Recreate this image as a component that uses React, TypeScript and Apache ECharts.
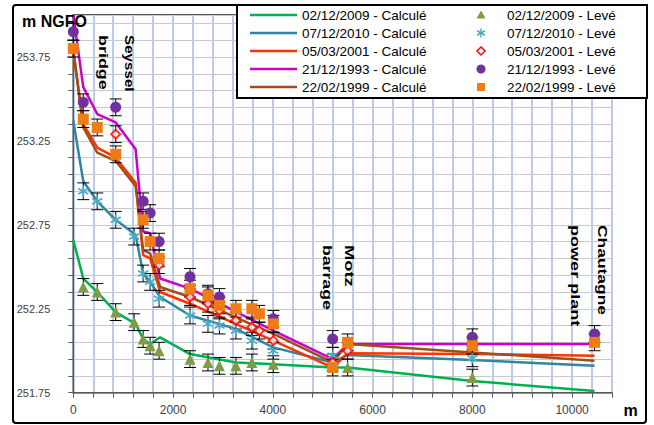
import React, { useEffect, useRef } from 'react';
import * as echarts from 'echarts';

// ---------- DATA ----------
const DATES = ['02/12/2009', '07/12/2010', '05/03/2001', '21/12/1993', '22/02/1999'];
const CALC_NAMES = DATES.map((d) => `${d} - Calculé`);
const LEVE_NAMES = DATES.map((d) => `${d} - Levé`);

const X_TICK_LABELS = ['0', '2000', '4000', '6000', '8000', '10000'];
const Y_TICK_LABELS = ['251.75', '252.25', '252.75', '253.25', '253.75'];

const Y_NAME = 'm NGFO';
const X_NAME = 'm';

// Calculated water lines [distance m, level m NGFO]
const CALC_2009: [number, number][] = [
  [0, 252.66], [200, 252.43], [480, 252.35], [850, 252.23], [1250, 252.16], [1400, 252.07],
  [1540, 252.04], [1740, 252.08], [2340, 251.98], [3260, 251.93], [4010, 251.92],
  [5200, 251.9], [5500, 251.9], [8000, 251.82], [10450, 251.76],
];
const CALC_2010: [number, number][] = [
  [0, 253.37], [200, 253.01], [480, 252.89], [850, 252.78], [1250, 252.69], [1400, 252.46],
  [1540, 252.41], [1740, 252.32], [2340, 252.21], [3260, 252.13], [3600, 252.08], [4010, 252.02],
  [5200, 251.93], [5500, 251.975], [8000, 251.945], [10450, 251.91],
];
const CALC_2001: [number, number][] = [
  [0, 253.79], [200, 253.35], [480, 253.21], [850, 253.15], [1250, 253.0], [1400, 252.57],
  [1540, 252.55], [1740, 252.35], [2340, 252.28], [4010, 252.06], [5200, 251.9],
  [5500, 251.985], [8000, 251.98], [10450, 251.97],
];
const CALC_1993: [number, number][] = [
  [0, 254.0], [200, 253.57], [480, 253.41], [850, 253.36], [1250, 253.2], [1400, 252.71],
  [1540, 252.7], [1740, 252.43], [2340, 252.37], [4010, 252.12], [5200, 251.95],
  [5500, 252.04], [8000, 252.04], [10450, 252.04],
];
const CALC_1999: [number, number][] = [
  [0, 253.79], [200, 253.33], [480, 253.18], [850, 253.13], [1250, 252.98], [1400, 252.6],
  [1540, 252.58], [1740, 252.38], [2340, 252.32], [4010, 252.1], [5200, 251.93],
  [5500, 252.04], [8000, 251.99], [10450, 251.94],
];

// Surveyed levels [distance m, level m NGFO]
const LEVE_2009: [number, number][] = [
  [200, 252.38], [480, 252.35], [850, 252.23], [1220, 252.17], [1400, 252.07], [1540, 252.03],
  [1720, 252.0], [2340, 251.95], [2700, 251.93], [2930, 251.91], [3260, 251.91], [3580, 251.93],
  [4010, 251.92], [5500, 251.9], [8000, 251.84],
];
const LEVE_2010: [number, number][] = [
  [200, 252.95], [480, 252.89], [850, 252.78], [1220, 252.68], [1400, 252.46], [1540, 252.41],
  [1720, 252.31], [2340, 252.21], [2700, 252.16], [2930, 252.15], [3260, 252.12], [3580, 252.06],
  [4010, 252.0], [5200, 251.97], [8000, 251.955],
];
const LEVE_2001: [number, number][] = [
  [850, 253.29], [1720, 252.51], [2340, 252.32], [2700, 252.28], [2930, 252.24], [3260, 252.18],
  [3580, 252.14], [3730, 252.12], [4010, 252.06], [5200, 251.93], [5500, 252.0],
];
const LEVE_1993: [number, number][] = [
  [0, 253.9], [200, 253.48], [850, 253.45], [1400, 252.89], [1540, 252.82], [1720, 252.65],
  [2340, 252.44], [2700, 252.34], [2930, 252.32], [4010, 252.19], [5200, 252.07],
  [8000, 252.08], [10450, 252.1],
];
const LEVE_1999: [number, number][] = [
  [0, 253.8], [200, 253.38], [480, 253.33], [850, 253.17], [1400, 252.78], [1540, 252.65],
  [1720, 252.55], [2340, 252.37], [2700, 252.33], [2930, 252.27], [3260, 252.25], [3580, 252.25],
  [3730, 252.22], [4010, 252.16], [5200, 251.9], [5500, 252.05], [8000, 252.03], [10450, 252.05],
];

const ERR = 0.05; // error bar half-height (m)

const CALC = [CALC_2009, CALC_2010, CALC_2001, CALC_1993, CALC_1999];
const LEVE = [LEVE_2009, LEVE_2010, LEVE_2001, LEVE_1993, LEVE_1999];

const ANNOTATIONS = [
  { text: 'Seyssel', x: 129.5, y: 35, sx: 1.17 },
  { text: 'bridge', x: 103.5, y: 35, sx: 1.38 },
  { text: 'Motz', x: 349.5, y: 245, sx: 1.41 },
  { text: 'barrage', x: 328, y: 245, sx: 1.36 },
  { text: 'Chautagne', x: 603, y: 225, sx: 1.34 },
  { text: 'power plant', x: 576, y: 225, sx: 1.39 },
];

// ---------- STYLES ----------
const FONT = '"Liberation Sans", Arial, sans-serif';
const LINE_COLORS = ['#00b050', '#31859c', '#ff3300', '#cc00cc', '#a04f18'];
const MARK_COLORS = ['#7e9c45', '#4bacc6', '#ff0000', '#7030a0', '#f07c16'];
const STAR_PATH =
  'path://M8.5,0L11.5,0L11.5,20L8.5,20Z' +
  'M0.59,6.3L2.09,3.7L19.41,13.7L17.91,16.3Z' +
  'M17.91,3.7L19.41,6.3L2.09,16.3L0.59,13.7Z';

function buildLegend(): any[] {
  const Z = 100;
  const children: any[] = [
    {
      type: 'rect',
      z: Z,
      shape: { x: 237, y: 5, width: 410, height: 93 },
      style: { fill: '#fff', stroke: '#000', lineWidth: 2 },
    },
  ];
  const textStyle = { fontFamily: FONT, fontSize: 13.5, fill: '#000', verticalAlign: 'middle', align: 'left' };
  DATES.forEach((_, i) => {
    const cy = 15 + i * 18;
    children.push({
      type: 'line',
      z: Z + 1,
      shape: { x1: 250, y1: cy, x2: 297, y2: cy },
      style: { stroke: LINE_COLORS[i], lineWidth: 2.5 },
    });
    children.push({ type: 'text', z: Z + 1, x: 302, y: cy, style: { ...textStyle, text: CALC_NAMES[i] } });
    children.push({ type: 'text', z: Z + 1, x: 507, y: cy, style: { ...textStyle, text: LEVE_NAMES[i] } });
    const cx = 481;
    const c = MARK_COLORS[i];
    if (i === 0) {
      children.push({
        type: 'polygon',
        z: Z + 1,
        shape: { points: [[cx, cy - 4.5], [cx + 4.5, cy + 3.5], [cx - 4.5, cy + 3.5]] },
        style: { fill: c },
      });
    } else if (i === 1) {
      const s = { stroke: c, lineWidth: 1.5 };
      children.push({ type: 'line', z: Z + 1, shape: { x1: cx, y1: cy - 4.5, x2: cx, y2: cy + 4.5 }, style: s });
      children.push({ type: 'line', z: Z + 1, shape: { x1: cx - 3.9, y1: cy - 2.25, x2: cx + 3.9, y2: cy + 2.25 }, style: s });
      children.push({ type: 'line', z: Z + 1, shape: { x1: cx - 3.9, y1: cy + 2.25, x2: cx + 3.9, y2: cy - 2.25 }, style: s });
    } else if (i === 2) {
      children.push({
        type: 'polygon',
        z: Z + 1,
        shape: { points: [[cx, cy - 4], [cx + 4, cy], [cx, cy + 4], [cx - 4, cy]] },
        style: { fill: '#fff', stroke: c, lineWidth: 1.5 },
      });
    } else if (i === 3) {
      children.push({ type: 'circle', z: Z + 1, shape: { cx, cy, r: 4.5 }, style: { fill: c } });
    } else {
      children.push({ type: 'rect', z: Z + 1, shape: { x: cx - 4, y: cy - 4, width: 8, height: 8 }, style: { fill: c } });
    }
  });
  return children;
}

export default function App() {
  const ref = useRef<HTMLDivElement>(null);

  useEffect(() => {
    if (!ref.current) return;
    const chart = echarts.init(ref.current, undefined, { renderer: 'svg' });

    const lineSeries = CALC.map((d, i) => ({
      type: 'line',
      name: CALC_NAMES[i],
      data: d,
      showSymbol: false,
      symbol: 'none',
      lineStyle: { color: LINE_COLORS[i], width: 2.5 },
      itemStyle: { color: LINE_COLORS[i] },
      z: 2,
    }));

    const symbols = ['triangle', STAR_PATH, 'diamond', 'circle', 'rect'];
    const sizes = [11, 11, 9, 11, 11];
    const scatterSeries = LEVE.map((d, i) => ({
      type: 'scatter',
      name: LEVE_NAMES[i],
      data: d,
      symbol: symbols[i],
      symbolSize: sizes[i],
      itemStyle:
        i === 2
          ? { color: '#fff', borderColor: MARK_COLORS[i], borderWidth: 2 }
          : { color: MARK_COLORS[i], opacity: 1 },
      z: 4,
    }));

    const allLeve = ([] as [number, number][]).concat(...LEVE);
    const errorSeries = {
      type: 'custom',
      name: 'error',
      data: allLeve,
      encode: { x: 0, y: 1 },
      z: 3,
      renderItem: (_params: any, api: any) => {
        const x = api.value(0);
        const y = api.value(1);
        const top = api.coord([x, y + ERR]);
        const bot = api.coord([x, y - ERR]);
        const hw = 6;
        const st = { stroke: '#000', lineWidth: 1 };
        return {
          type: 'group',
          children: [
            { type: 'line', shape: { x1: top[0], y1: top[1], x2: bot[0], y2: bot[1] }, style: st },
            { type: 'line', shape: { x1: top[0] - hw, y1: top[1], x2: top[0] + hw, y2: top[1] }, style: st },
            { type: 'line', shape: { x1: bot[0] - hw, y1: bot[1], x2: bot[0] + hw, y2: bot[1] }, style: st },
          ],
        };
      },
    };

    const graphics: any[] = [
      {
        type: 'rect',
        shape: { x: 13, y: 5, width: 633, height: 418, r: 3 },
        style: { fill: 'none', stroke: '#000', lineWidth: 2 },
        z: 50,
      },
      {
        type: 'text',
        x: 22,
        y: 21,
        z: 60,
        style: { text: Y_NAME, fontFamily: FONT, fontWeight: 'bold', fontSize: 16, fill: '#000', verticalAlign: 'middle', align: 'left' },
      },
      {
        type: 'text',
        x: 630.5,
        y: 410,
        z: 60,
        style: { text: X_NAME, fontFamily: FONT, fontWeight: 'bold', fontSize: 16, fill: '#000', verticalAlign: 'middle', align: 'center' },
      },
      ...ANNOTATIONS.map((a) => ({
        type: 'text',
        x: a.x,
        y: a.y,
        rotation: -Math.PI / 2,
        scaleX: a.sx,
        z: 60,
        style: { text: a.text, fontFamily: FONT, fontWeight: 'bold', fontSize: 13, fill: '#000', verticalAlign: 'middle', align: 'left' },
      })),
      ...buildLegend(),
    ];

    chart.setOption({
      animation: false,
      backgroundColor: '#fff',
      textStyle: { fontFamily: FONT },
      grid: {
        left: 73.3,
        top: 15,
        right: 42,
        bottom: 32.3,
        show: true,
        borderColor: '#222',
        borderWidth: 1.5,
        backgroundColor: 'transparent',
      },
      xAxis: {
        type: 'value',
        min: 0,
        max: 10800,
        interval: 400,
        axisLine: { show: true, onZero: false, lineStyle: { color: '#595959', width: 1 } },
        axisTick: { show: true, length: 5, interval: 0, lineStyle: { color: '#595959' } },
        axisLabel: {
          interval: 0,
          margin: 11,
          fontSize: 12,
          color: '#404040',
          fontFamily: FONT,
          formatter: (v: number) => (X_TICK_LABELS.includes(String(Math.round(v))) ? String(Math.round(v)) : ''),
        },
        splitLine: { show: true, lineStyle: { color: '#bccbeb', width: 2 } },
      },
      yAxis: {
        type: 'value',
        min: 251.75,
        max: 254.0,
        interval: 0.1,
        axisLine: { show: true, onZero: false, lineStyle: { color: '#595959', width: 1 } },
        axisTick: { show: true, length: 5, interval: 0, lineStyle: { color: '#595959' } },
        axisLabel: {
          interval: 0,
          margin: 23,
          fontSize: 11,
          color: '#404040',
          fontFamily: FONT,
          formatter: (v: number) => (Y_TICK_LABELS.includes(v.toFixed(2)) ? v.toFixed(2) : ''),
        },
        splitLine: { show: true, lineStyle: { color: '#c8c8c8', width: 1 } },
      },
      series: [...lineSeries, errorSeries, ...scatterSeries],
      graphic: graphics,
    });

    return () => {
      chart.dispose();
    };
  }, []);

  return (
    <div
      ref={ref}
      style={{ position: 'absolute', left: 0, top: 0, width: 654, height: 425 }}
    />
  );
}
